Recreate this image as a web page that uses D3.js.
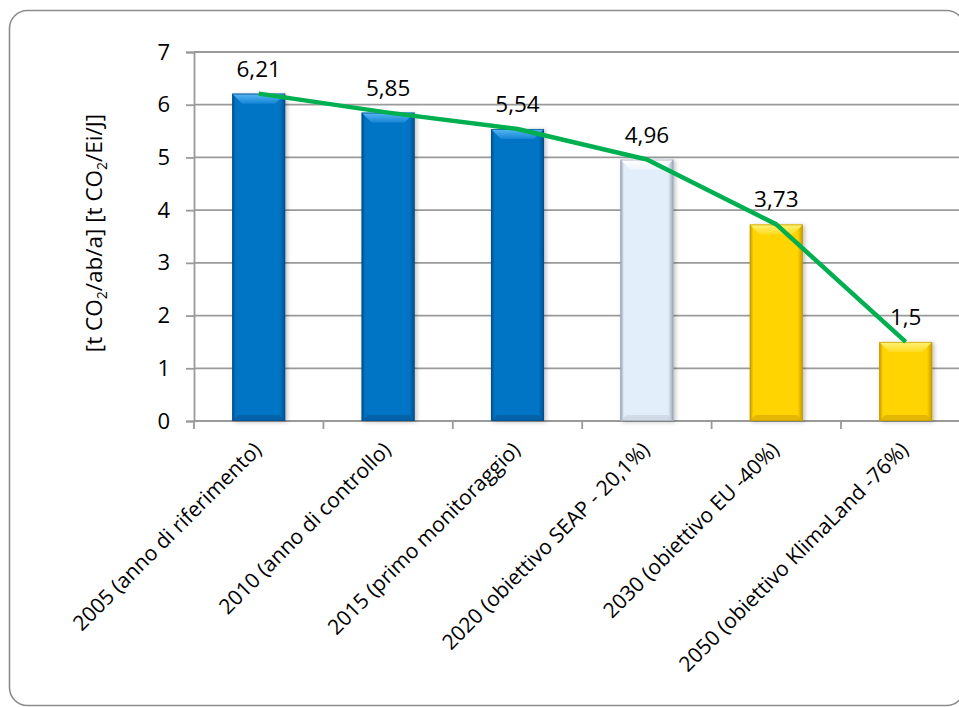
<!DOCTYPE html>
<html>
<head>
<meta charset="utf-8">
<script src="https://cdn.jsdelivr.net/npm/d3@7"></script>
<style>
  html, body { margin: 0; padding: 0; background: #fff; }
  svg { display: block; }
  text { font-family: "Open Sans", "Noto Sans", sans-serif; fill: #000; }
</style>
</head>
<body>
<svg id="chart" width="959" height="707"></svg>
<script>
// Emissioni pro capite: valori per anno e obiettivi
const categories = [
  "2005 (anno di riferimento)",
  "2010 (anno di controllo)",
  "2015 (primo monitoraggio)",
  "2020 (obiettivo SEAP - 20,1%)",
  "2030 (obiettivo EU -40%)",
  "2050 (obiettivo KlimaLand -76%)"
];
const values = [6.21, 5.85, 5.54, 4.96, 3.73, 1.5];
const valueLabels = ["6,21", "5,85", "5,54", "4,96", "3,73", "1,5"];
const barKinds = ["blue", "blue", "blue", "light", "gold", "gold"];
const yTicks = [0, 1, 2, 3, 4, 5, 6, 7];

const svg = d3.select("#chart");
const W = 959, H = 707;
const plot = { left: 194, top: 52, bottom: 421, step: 129.4 };

// outer chart frame (rounded, partly beyond the canvas)
svg.append("rect")
  .attr("x", 9.5).attr("y", 10.5)
  .attr("width", 955).attr("height", 695)
  .attr("rx", 18).attr("ry", 18)
  .attr("fill", "#fff")
  .attr("stroke", "#8c8c8c").attr("stroke-width", 1.6);

const x = d3.scaleBand()
  .domain(categories)
  .range([plot.left, plot.left + plot.step * categories.length])
  .paddingInner(0.59)
  .paddingOuter(0.295);

const y = d3.scaleLinear().domain([0, 7]).range([plot.bottom, plot.top]);

// gradients for the bevelled bars
const defs = svg.append("defs");
const palettes = {
  blue:  { edge: "#064f8c", mid: "#0674c6", top0: "#5ab8f4", top1: "#1585d6", bot: "#055a9c" },
  light: { edge: "#9aa4b4", mid: "#e3eefb", top0: "#ffffff", top1: "#eef4fc", bot: "#c9d2de" },
  gold:  { edge: "#c49a00", mid: "#ffd400", top0: "#fff27a", top1: "#ffdc20", bot: "#d9ad00" }
};
Object.entries(palettes).forEach(([k, p]) => {
  const g = defs.append("linearGradient").attr("id", "body-" + k)
    .attr("x1", "0").attr("x2", "1").attr("y1", "0").attr("y2", "0");
  g.append("stop").attr("offset", "0").attr("stop-color", p.edge);
  g.append("stop").attr("offset", "0.07").attr("stop-color", p.mid);
  g.append("stop").attr("offset", "0.9").attr("stop-color", p.mid);
  g.append("stop").attr("offset", "1").attr("stop-color", p.edge);
  const t = defs.append("linearGradient").attr("id", "top-" + k)
    .attr("x1", "0").attr("x2", "0").attr("y1", "0").attr("y2", "1");
  t.append("stop").attr("offset", "0").attr("stop-color", p.top0);
  t.append("stop").attr("offset", "1").attr("stop-color", p.top1);
});
const shadow = defs.append("filter").attr("id", "shadow")
  .attr("x", "-20%").attr("y", "-5%").attr("width", "150%").attr("height", "115%");
shadow.append("feDropShadow").attr("dx", 2).attr("dy", 1).attr("stdDeviation", 2)
  .attr("flood-color", "#000").attr("flood-opacity", 0.25);

// horizontal gridlines
svg.append("g").selectAll("line")
  .data(yTicks.filter(d => d > 0))
  .join("line")
  .attr("x1", plot.left).attr("x2", W)
  .attr("y1", d => y(d)).attr("y2", d => y(d))
  .attr("stroke", "#9a9a9a").attr("stroke-width", 1.8);

// y axis
const yAxis = svg.append("g")
  .attr("transform", `translate(${plot.left},0)`)
  .call(d3.axisLeft(y).tickValues(yTicks).tickSize(8).tickPadding(16).tickFormat(d3.format("d")));
yAxis.select(".domain").attr("stroke", "#9a9a9a").attr("stroke-width", 1.8);
yAxis.selectAll(".tick line").attr("stroke", "#9a9a9a").attr("stroke-width", 1.8);
yAxis.selectAll(".tick text").attr("font-size", 22).attr("font-family", "Open Sans, sans-serif").attr("fill", "#000");

// x axis with tick marks on category boundaries
const xAxisG = svg.append("g").attr("transform", `translate(0,${plot.bottom})`);
xAxisG.append("line")
  .attr("x1", plot.left).attr("x2", W)
  .attr("stroke", "#9a9a9a").attr("stroke-width", 1.8);
const boundaries = categories.map((c, i) => x(c) - x.step() * x.paddingInner() / 2)
  .concat([x(categories[categories.length - 1]) + x.bandwidth() + x.step() * x.paddingInner() / 2]);
xAxisG.selectAll("line.tk").data(boundaries).join("line").attr("class", "tk")
  .attr("x1", d => d).attr("x2", d => d).attr("y1", 0).attr("y2", 8)
  .attr("stroke", "#9a9a9a").attr("stroke-width", 1.8);
xAxisG.selectAll("text").data(categories).join("text")
  .attr("transform", d => `translate(${x(d) + x.bandwidth() / 2 + 4},${30}) rotate(-45)`)
  .attr("text-anchor", "end")
  .attr("font-size", 21)
  .text(d => d);

// bars with a bevelled look
const bars = svg.append("g").selectAll("g.bar")
  .data(values.map((v, i) => ({ v, i, c: categories[i], kind: barKinds[i] })))
  .join("g").attr("class", "bar");
bars.each(function (d) {
  const g = d3.select(this);
  const bx = x(d.c), bw = x.bandwidth(), by = y(d.v), bh = y(0) - y(d.v);
  const p = palettes[d.kind];
  const b = Math.min(10, bh / 3);
  g.append("rect").attr("x", bx).attr("y", by).attr("width", bw).attr("height", bh)
    .attr("fill", `url(#body-${d.kind})`).attr("filter", "url(#shadow)");
  g.append("polygon")
    .attr("points", [[bx, by], [bx + bw, by], [bx + bw - b, by + b], [bx + b, by + b]].join(" "))
    .attr("fill", `url(#top-${d.kind})`);
  g.append("polygon")
    .attr("points", [[bx, by + bh], [bx + bw, by + bh], [bx + bw - b * 0.6, by + bh - b * 0.6], [bx + b * 0.6, by + bh - b * 0.6]].join(" "))
    .attr("fill", p.bot).attr("opacity", 0.7);
  g.append("rect").attr("x", bx + 0.5).attr("y", by + 0.5).attr("width", bw - 1).attr("height", bh - 1)
    .attr("fill", "none").attr("stroke", p.edge).attr("stroke-width", 1).attr("opacity", 0.7);
});

// trend line through the bar values
const line = d3.line()
  .x((d, i) => x(categories[i]) + x.bandwidth() / 2)
  .y(d => y(d));
svg.append("path")
  .datum(values)
  .attr("d", line)
  .attr("fill", "none")
  .attr("stroke", "#00b050")
  .attr("stroke-width", 4.5)
  .attr("stroke-linejoin", "round");

// value labels
svg.append("g").selectAll("text")
  .data(values)
  .join("text")
  .attr("x", (d, i) => x(categories[i]) + x.bandwidth() / 2)
  .attr("y", d => y(d) - 17)
  .attr("text-anchor", "middle")
  .attr("font-size", 22.5)
  .text((d, i) => valueLabels[i]);

// y axis title with subscripts
const title = svg.append("text")
  .attr("transform", `translate(102,233) rotate(-90)`)
  .attr("text-anchor", "middle")
  .attr("font-size", 22.5);
title.append("tspan").text("[t CO");
title.append("tspan").attr("font-size", 14).attr("dy", 5).text("2");
title.append("tspan").attr("dy", -5).text("/ab/a] [t CO");
title.append("tspan").attr("font-size", 14).attr("dy", 5).text("2");
title.append("tspan").attr("dy", -5).text("/Ei/J]");
</script>
</body>
</html>
